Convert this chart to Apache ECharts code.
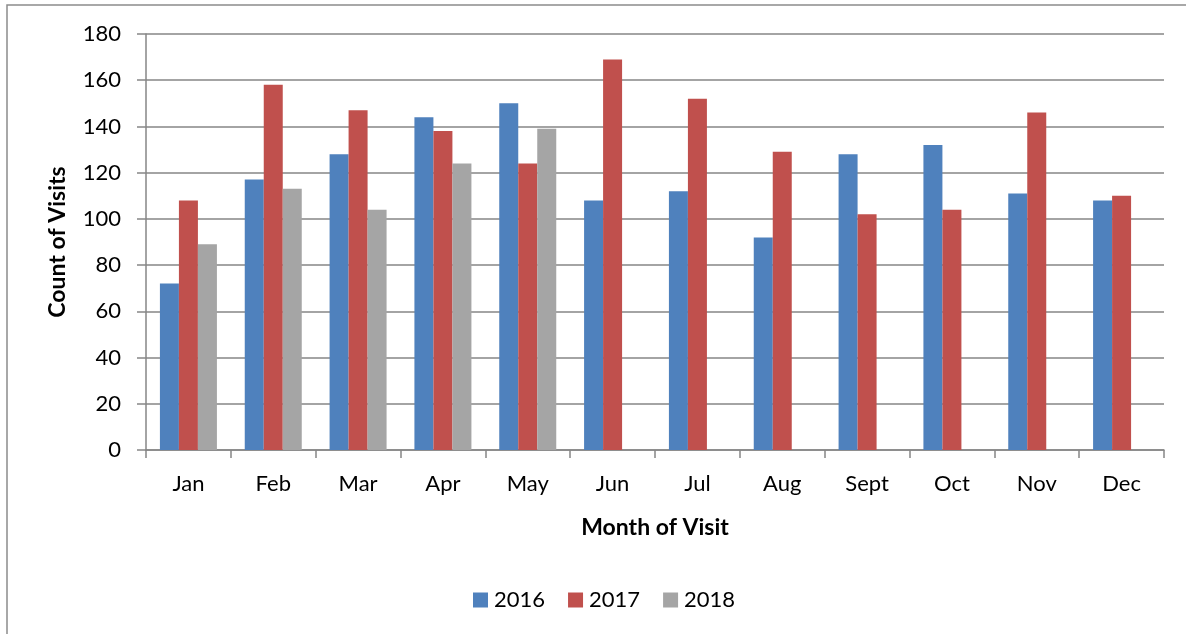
<!DOCTYPE html>
<html>
<head>
<meta charset="utf-8">
<script src="https://cdn.jsdelivr.net/npm/echarts@6/dist/echarts.min.js"></script>
<style>
html,body{margin:0;padding:0;background:#fff;}
#c{width:1186px;height:634px;}
</style>
</head>
<body>
<div id="c"></div>
<script>
const months = ['Jan','Feb','Mar','Apr','May','Jun','Jul','Aug','Sept','Oct','Nov','Dec'];
const s2016 = [72,117,128,144,150,108,112,92,128,132,111,108];
const s2017 = [108,158,147,138,124,169,152,129,102,104,146,110];
const s2018 = [89,113,104,124,139,null,null,null,null,null,null,null];
const seriesNames = ['2016','2017','2018'];
const colors = ['#4F81BD','#C0504D','#A5A5A5'];
const yTicks = {min:0,max:180,interval:20};

const font = 'Lato, "Open Sans", "Liberation Sans", sans-serif';
const chart = echarts.init(document.getElementById('c'), null, {renderer:'canvas'});
const data = [s2016, s2017, s2018];
chart.setOption({
  animation:false,
  textStyle:{fontFamily:font},
  graphic:[{type:'rect',shape:{x:7,y:5,width:1300,height:800},style:{fill:'none',stroke:'#8c8c8c',lineWidth:1.5},silent:true}],
  grid:{left:146,right:22,top:34,bottom:184,containLabel:false},
  legend:{
    data:seriesNames, top:584, left:468,
    icon:'rect', itemWidth:15, itemHeight:15, itemGap:23,
    textStyle:{fontFamily:font,fontSize:22,color:'#000',padding:[0,0,0,1]}
  },
  xAxis:{
    type:'category', data:months,
    name:'Month of Visit', nameLocation:'middle', nameGap:66,
    nameTextStyle:{fontFamily:font,fontSize:23,fontWeight:'bold',color:'#000'},
    axisLine:{lineStyle:{color:'#868686',width:1.5}},
    axisTick:{show:true,length:8,lineStyle:{color:'#868686',width:1.5}},
    axisLabel:{fontFamily:font,fontSize:22,color:'#000',margin:23}
  },
  yAxis:{
    type:'value', min:yTicks.min, max:yTicks.max, interval:yTicks.interval,
    name:'Count of Visits', nameLocation:'middle', nameGap:77, nameRotate:90,
    nameTextStyle:{fontFamily:font,fontSize:23,fontWeight:'bold',color:'#000'},
    axisLine:{show:true,lineStyle:{color:'#868686',width:1.5}},
    axisTick:{show:true,length:9,inside:false,lineStyle:{color:'#868686',width:1.5}},
    axisLabel:{fontFamily:font,fontSize:22,color:'#000',margin:25},
    splitLine:{lineStyle:{color:'#868686',width:1.5}}
  },
  series: seriesNames.map((n,i)=>({
    name:n, type:'bar', data:data[i], barWidth:19, barGap:'0%',
    itemStyle:{color:colors[i]}
  }))
});
</script>
</body>
</html>
